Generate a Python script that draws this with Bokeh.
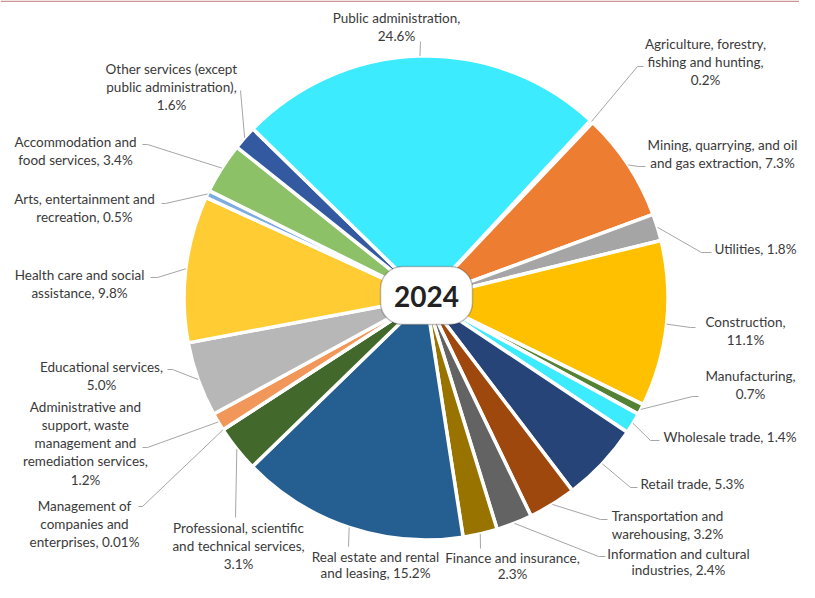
import math
from bokeh.plotting import figure
from bokeh.models import Range1d, BoxAnnotation, ColumnDataSource, Label
from bokeh.embed import file_html
from bokeh.resources import INLINE
from bokeh.core.properties import value

# ---------------- data ----------------
categories = [
    "Agriculture, forestry, fishing and hunting",
    "Mining, quarrying, and oil and gas extraction",
    "Utilities",
    "Construction",
    "Manufacturing",
    "Wholesale trade",
    "Retail trade",
    "Transportation and warehousing",
    "Information and cultural industries",
    "Finance and insurance",
    "Real estate and rental and leasing",
    "Professional, scientific and technical services",
    "Management of companies and enterprises",
    "Administrative and support, waste management and remediation services",
    "Educational services",
    "Health care and social assistance",
    "Arts, entertainment and recreation",
    "Accommodation and food services",
    "Other services (except public administration)",
    "Public administration",
]
shares = [0.2, 7.3, 1.8, 11.1, 0.7, 1.4, 5.3, 3.2, 2.4, 2.3,
          15.2, 3.1, 0.01, 1.2, 5.0, 9.8, 0.5, 3.4, 1.6, 24.6]
label_templates = [
    "Agriculture, forestry,\nfishing and hunting,\n{v}%",
    "Mining, quarrying, and oil\nand gas extraction, {v}%",
    "Utilities, {v}%",
    "Construction,\n{v}%",
    "Manufacturing,\n{v}%",
    "Wholesale trade, {v}%",
    "Retail trade, {v}%",
    "Transportation and\nwarehousing, {v}%",
    "Information and cultural\nindustries, {v}%",
    "Finance and insurance,\n{v}%",
    "Real estate and rental\nand leasing, {v}%",
    "Professional, scientific\nand technical services,\n{v}%",
    "Management of\ncompanies and\nenterprises, {v}%",
    "Administrative and\nsupport, waste\nmanagement and\nremediation services,\n{v}%",
    "Educational services,\n{v}%",
    "Health care and social\nassistance, {v}%",
    "Arts, entertainment and\nrecreation, {v}%",
    "Accommodation and\nfood services, {v}%",
    "Other services (except\npublic administration),\n{v}%",
    "Public administration,\n{v}%",
]
year_label = "2024"

# ---------------- styles / layout ----------------
colors = ["#4472C4", "#ED7D31", "#A5A5A5", "#FFC000", "#548235", "#3DEBFF",
          "#264478", "#9E480E", "#636363", "#997300", "#255E91", "#43682B",
          "#698ED0", "#F1975A", "#B7B7B7", "#FFCD33", "#7CAFDD", "#8CC168",
          "#335AA1", "#3DEBFF"]

# label anchors in screen pixels: (x, y of first line, align)
label_pos = [
    (705, 43, "center"), (722, 144, "center"), (714, 248, "left"),
    (745, 321, "center"), (750, 375, "center"), (663, 436, "left"),
    (640, 483, "left"), (667, 515, "center"), (678, 553, "center"),
    (512, 557, "center"), (375, 556, "center"), (238, 527, "center"),
    (84, 505, "center"), (85, 406, "center"), (101, 366, "center"),
    (79, 274, "center"), (84, 198, "center"), (75, 141, "center"),
    (171, 68, "center"), (396, 17, "center"),
]
# leader line points after the slice edge (screen pixels)
leader_pts = [
    [(637, 66), (643, 66)], [(638, 166), (645, 166)], [(701, 252), (711, 252)],
    [(690, 327), (695, 327)], [(692, 396), (698, 396)], [(650, 440), (659, 440)],
    [(630, 487), (637, 487)], [(600, 519), (607, 519)], [(598, 556), (605, 556)],
    [(480, 548)], [(348, 546)], [(235, 517)],
    [(142, 506), (138, 506)], [(147, 447), (142, 447)], [(172, 369), (167, 369)],
    [(157, 277), (150, 277)], [(165, 203), (161, 203)], [(147, 144), (142, 144)],
    [(240, 90)], [(420, 41)],
]

CX, CY, R = 425.5, 297.5, 242.0
START_DEG = 42.8
LINE_H = 18.3


def sy(y):
    return 598 - y


def fmt(v):
    return f"{v:.2f}" if v < 0.1 else f"{v:.1f}"


p = figure(width=799, height=582, x_range=Range1d(0, 799), y_range=Range1d(16, 598),
           output_backend="svg", toolbar_location=None,
           x_axis_type=None, y_axis_type=None, min_border=0,
           outline_line_color=None)
p.grid.visible = False
p.background_fill_color = "white"
p.border_fill_color = "white"

# top rule
p.line([0, 799], [sy(0.8), sy(0.8)], line_color="#CC9494", line_width=1.5)

# wedges
total = sum(shares)
starts, ends, mids = [], [], []
cum = 0.0
for v in shares:
    a0 = START_DEG + cum / total * 360.0
    a1 = a0 + v / total * 360.0
    starts.append(math.radians(90 - a0))
    ends.append(math.radians(90 - a1))
    mids.append((a0 + a1) / 2)
    cum += v

src = ColumnDataSource(dict(x=[CX] * len(shares), y=[sy(CY)] * len(shares),
                            start=starts, end=ends, color=colors, name=categories))
p.wedge(x="x", y="y", radius=R, start_angle="start", end_angle="end",
        direction="clock", fill_color="color", line_color="white",
        line_width=3.5, source=src)

# leader lines
xs, ys = [], []
for m, pts in zip(mids, leader_pts):
    ex = CX + R * math.sin(math.radians(m))
    ey = CY - R * math.cos(math.radians(m))
    lx = [ex] + [q[0] for q in pts]
    ly = [sy(ey)] + [sy(q[1]) for q in pts]
    xs.append(lx)
    ys.append(ly)
p.multi_line(xs, ys, line_color="#A6A6A6", line_width=1)

# labels
groups = {"center": dict(x=[], y=[], t=[]), "left": dict(x=[], y=[], t=[])}
for tmpl, v, (lx, ly, al) in zip(label_templates, shares, label_pos):
    lines = tmpl.format(v=fmt(v)).split("\n")
    for i, ln in enumerate(lines):
        groups[al]["x"].append(lx)
        groups[al]["y"].append(sy(ly + i * (LINE_H if ly < 550 else 16.5)))
        groups[al]["t"].append(ln)
for al, d in groups.items():
    p.text(x=d["x"], y=d["y"], text=d["t"], text_align=al, text_baseline="middle",
           text_font=value("Lato"), text_font_size="13.5px", text_color="#3A3A3A")

# centre box
box = BoxAnnotation(left=380, right=472, top=sy(266), bottom=sy(324),
                    fill_color="white", fill_alpha=1.0, line_color="#2B2B2B",
                    line_width=1.5, border_radius=22)
p.add_layout(box)
year = Label(x=426, y=sy(296), text=year_label, text_align="center",
             text_baseline="middle", text_font="Lato", text_font_size="28px",
             text_font_style="bold", text_color="#222222")
p.add_layout(year)

open("out.html", "w").write(file_html(p, INLINE))
